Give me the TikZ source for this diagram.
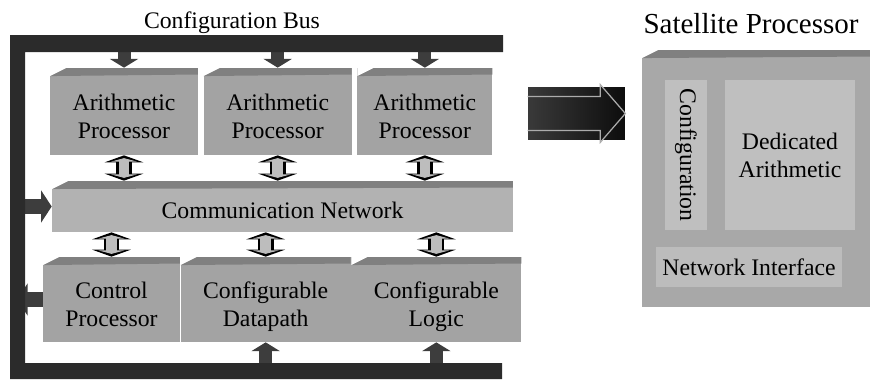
\documentclass[tikz,border=0pt]{standalone}
\usepackage{fontspec}
\setmainfont{Liberation Serif}
\usepackage{tikz}
\usetikzlibrary{positioning, arrows.meta, calc}
\definecolor{BusDark}{gray}{0.17}
\definecolor{ArrowDark}{gray}{0.24}
\definecolor{BoxGrey}{gray}{0.64}
\definecolor{BoxTop}{gray}{0.50}
\definecolor{NetGrey}{gray}{0.70}
\definecolor{SatGrey}{gray}{0.66}
\definecolor{PanelGrey}{gray}{0.75}
\definecolor{ArrowFill}{gray}{0.74}

\begin{document}
\begin{tikzpicture}[
  x=0.02cm, y=-0.02cm,
  node distance = 0.1cm and 0.1cm,
  block/.style    = {rectangle, fill=BoxGrey, inner sep=0pt, align=center,
                     minimum width=2.96cm, minimum height=1.74cm,
                     text height=35pt, text depth=4pt,
                     font=\fontsize{13.5}{16}\selectfont,
                     path picture={
                       \coordinate (bnw) at (path picture bounding box.north west);
                       \coordinate (bne) at (path picture bounding box.north east);
                       \fill[BoxTop] ([yshift=-0.16cm]bnw) -- ([xshift=0.32cm]bnw) -- (bne)
                         -- ([yshift=-0.13cm]bne) -- ([xshift=0.12cm,yshift=-0.16cm]bnw) -- cycle;
                       \fill[white] (bnw) -- ([xshift=0.32cm]bnw) -- ([yshift=-0.16cm]bnw) -- cycle;
                     }},
  panel/.style    = {fill=PanelGrey, inner sep=0pt, align=center,
                     font=\fontsize{13.5}{16}\selectfont},
  heading/.style  = {inner sep=0pt, font=\fontsize{13.5}{16}\selectfont},
  busarrow/.style = {line width=7.4pt, draw=ArrowDark, -{Triangle[width=16pt,length=5pt]}},
  sidearrow/.style= {line width=9pt, draw=ArrowDark, -{Triangle[width=18pt,length=6pt]}},
  dblarrow/.style = {line width=9pt, draw=black,
                     {Triangle[width=22pt,length=4pt]}-{Triangle[width=22pt,length=4pt]},
                     postaction={draw=ArrowFill, line width=6pt,
                                 {Triangle[width=15pt,length=2pt]}-{Triangle[width=15pt,length=2pt]},
                                 shorten <=1.6pt, shorten >=1.6pt}}
]
  \useasboundingbox (0,0) rectangle (873,379);

  % Top row: arithmetic processors
  \node[block] (ap1) at (124,111.5) {Arithmetic\\Processor};
  \node[block, right=of ap1] (ap2) {Arithmetic\\Processor};
  \node[block, right=of ap2, minimum width=2.7cm] (ap3) {Arithmetic\\Processor};

  % Middle: network
  \node[block, fill=NetGrey, minimum width=9.22cm, minimum height=1.02cm, text height=18pt]
    (comm) at (282.5,206.5) {Communication Network};

  % Bottom row
  \node[block, minimum width=2.74cm, minimum height=1.7cm] (cp) at (111.5,299.5) {Control\\Processor};
  \node[block, right=0cm of cp, minimum width=3.4cm, minimum height=1.7cm] (cd) {Configurable\\Datapath};
  \node[block, right=0cm of cd, minimum width=3.4cm, minimum height=1.7cm] (cl) {Configurable\\Logic};

  % Bus edges
  \coordinate (bustop) at (0,52);
  \coordinate (busbot) at (0,363);
  \coordinate (busleft) at (25,0);
  \coordinate (busmid) at (17,0);

  % Arrows from and to the bus
  \foreach \b in {ap1,ap2,ap3}
    \draw[busarrow] (\b.north |- bustop) -- (\b.north);
  \foreach \b in {cd,cl}
    \draw[busarrow] (\b.south |- busbot) -- (\b.south);
  \draw[sidearrow] (busleft |- comm.west) -- (comm.west);
  \draw[sidearrow] (cp.west) -- (busmid |- cp.west);

  % Links to the network
  \foreach \b in {ap1,ap2,ap3}
    \draw[dblarrow] (\b.south) -- (\b.south |- comm.north);
  \foreach \b in {cp,cd,cl}
    \draw[dblarrow] (comm.south -| \b.north) -- (\b.north);

  % Configuration bus frame
  \fill[BusDark] (503,35) -- (10,35) -- (10,379) -- (502,379) -- (502,363)
    -- (25,363) -- (25,52) -- (503,52) -- cycle;
  \node[heading] (buslabel) at (232,23) {Configuration Bus};

  % Transfer arrow
  \node[minimum width=1.94cm, minimum height=1.06cm, inner sep=0pt,
        left color=gray!45!black, right color=black!95] (xfer) at (576.5,113.5) {};
  \draw[gray!65!white, line width=0.7pt]
    ([yshift=0.34cm]xfer.west) -- ([xshift=-0.5cm,yshift=0.34cm]xfer.east)
    -- ([xshift=-0.5cm,yshift=0.04cm]xfer.north east) -- (xfer.east)
    -- ([xshift=-0.5cm,yshift=-0.04cm]xfer.south east)
    -- ([xshift=-0.5cm,yshift=-0.34cm]xfer.east) -- ([yshift=-0.34cm]xfer.west);

  % Satellite processor
  \node[heading, font=\fontsize{16.5}{19}\selectfont] (sattitle) at (751,24) {Satellite Processor};
  \node[block, fill=SatGrey, minimum width=4.56cm, minimum height=5.14cm, text height=0pt, text depth=0pt]
    (sat) at (756,178.5) {};
  \node[panel, rotate=-90, minimum width=3cm, minimum height=0.84cm] (cfg) at (686,155) {Configuration};
  \node[panel, minimum width=2.6cm, minimum height=3cm] (ded) at (790,155) {Dedicated\\Arithmetic};
  \node[panel, fill=PanelGrey!85!SatGrey, minimum width=3.74cm, minimum height=0.8cm] (netif) at (749,267)
    {Network Interface};
\end{tikzpicture}
\end{document}
